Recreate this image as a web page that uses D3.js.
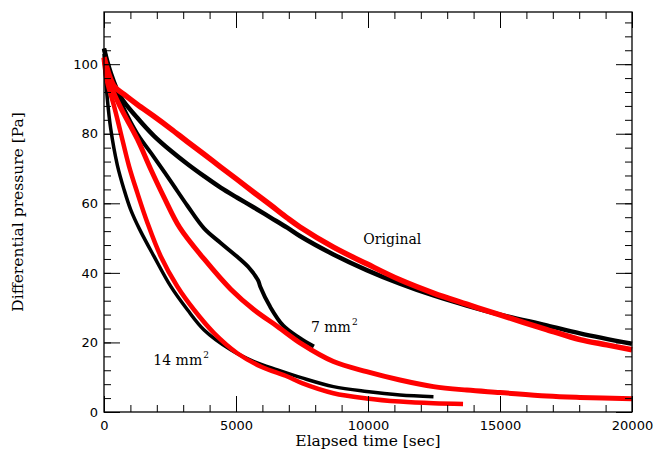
<!DOCTYPE html>
<html>
<head>
<meta charset="utf-8">
<script src="https://cdn.jsdelivr.net/npm/d3@7"></script>
<style>
  html, body { margin: 0; padding: 0; background: #fff; }
  svg { display: block; }
</style>
</head>
<body>
<div id="chart"></div>
<script>
// elapsed time [sec] and differential pressure [Pa]
const origBlackT = [0, 250, 630, 1260, 1890, 2530, 3160, 3790, 4420, 5050, 5680, 6310, 6940, 7420, 8690, 9950, 11210, 12480, 13740, 15000, 16770, 18030, 20000]
const origBlackP = [104.5, 97.6, 90.6, 84.6, 79.4, 75.1, 71.3, 67.8, 64.5, 61.6, 58.8, 55.9, 53.0, 50.6, 45.3, 40.8, 36.9, 33.5, 30.6, 28.0, 24.9, 22.6, 19.6]

const origRedT = [0, 380, 760, 1260, 1890, 2530, 3160, 3790, 4420, 5050, 5680, 6310, 6940, 7420, 8690, 9950, 11210, 12480, 13740, 15000, 16770, 18030, 19040, 20000]
const origRedP = [102, 93.7, 91.3, 88.4, 85.0, 81.4, 77.7, 74.1, 70.4, 66.8, 63.1, 59.5, 55.8, 53.2, 47.4, 42.6, 38.0, 34.2, 31.0, 27.9, 23.7, 20.8, 19.3, 17.9]

const mm7BlackT = [0, 300, 700, 1260, 1890, 2530, 3160, 3790, 4420, 5050, 5500, 5840, 5920, 6290, 6790, 7420, 7950]
const mm7BlackP = [104.5, 95, 88, 80, 73.3, 66.3, 59.3, 52.8, 48.6, 44.6, 41.4, 37.8, 36.0, 30.3, 24.8, 21.2, 18.8]

const mm7RedT = [0, 250, 630, 1260, 1770, 2270, 2870, 3790, 4800, 5680, 6570, 7500, 8690, 9950, 11210, 12480, 13740, 15000, 16770, 18030, 20000]
const mm7RedP = [101.5, 94, 87.5, 78.5, 69.8, 61.8, 53.0, 44.0, 35.3, 29.4, 24.6, 19.5, 14.5, 11.6, 9.2, 7.3, 6.3, 5.6, 4.6, 4.2, 3.8]

const mm14BlackT = [0, 126, 253, 505, 758, 1010, 1350, 1890, 2530, 3160, 3790, 4800, 5680, 6570, 7500, 8690, 9950, 11210, 12480]
const mm14BlackP = [103, 90, 81.5, 71.0, 64, 58.2, 52.5, 44.8, 36.1, 29.4, 23.6, 17.9, 14.5, 12.1, 9.8, 7.3, 5.9, 4.9, 4.4]

const mm14RedT = [0, 126, 379, 632, 947, 1263, 1640, 2147, 2778, 3409, 4167, 5050, 5935, 6944, 7500, 8690, 9950, 11210, 12480, 13600]
const mm14RedP = [101, 94.7, 88, 80.3, 70.7, 63, 54.5, 44.8, 36.1, 29.4, 22.7, 16.9, 13.1, 10.2, 8.3, 5.4, 3.9, 3.0, 2.5, 2.3]

const xTicks = [0, 5000, 10000, 15000, 20000]
const yTicks = [0, 20, 40, 60, 80, 100]

const curveLabels = ['Original', '7 mm', '14 mm']
const curveLabelT = [10920, 7840, 1870]
const curveLabelP = [48.3, 23.1, 13.5]
const curveLabelSup = ['', '2', '2']

const series = [
  { t: origBlackT, p: origBlackP, color: '#000', width: 4.5 },
  { t: mm7BlackT, p: mm7BlackP, color: '#000', width: 4 },
  { t: mm14BlackT, p: mm14BlackP, color: '#000', width: 3.5 },
  { t: origRedT, p: origRedP, color: '#ff0000', width: 5.5 },
  { t: mm7RedT, p: mm7RedP, color: '#ff0000', width: 5 },
  { t: mm14RedT, p: mm14RedP, color: '#ff0000', width: 4.5 }
]

const width = 655
const height = 457
const margin = { top: 12, right: 23, bottom: 45, left: 104 }

const svg = d3.select('#chart')
  .append('svg')
  .attr('width', width)
  .attr('height', height)

const x = d3.scaleLinear()
  .domain([0, 20000])
  .range([margin.left, width - margin.right])

const y = d3.scaleLinear()
  .domain([0, 115])
  .range([height - margin.bottom, margin.top])

const minorX = d3.range(0, 20001, 1000)
const minorY = d3.range(0, 115, 4)

const tickFont = g => g
  .attr('font-family', 'DejaVu Sans, sans-serif')
  .attr('font-size', 13)

// curves
const line = d3.line()
  .x(d => x(d[0]))
  .y(d => y(d[1]))
  .curve(d3.curveCatmullRom.alpha(0.5))

svg.append('g')
  .attr('class', 'curves')
  .selectAll('path')
  .data(series)
  .join('path')
  .attr('d', s => line(s.t.map((t, i) => [t, s.p[i]])))
  .attr('fill', 'none')
  .attr('stroke', s => s.color)
  .attr('stroke-width', s => s.width)
  .attr('stroke-linejoin', 'round')

// axes: ticks point inward on all four sides
const bottom = height - margin.bottom
const right = width - margin.right

svg.append('g')
  .attr('transform', `translate(0,${bottom})`)
  .call(d3.axisBottom(x).tickValues(minorX).tickSize(-7).tickFormat(''))
svg.append('g')
  .attr('transform', `translate(0,${bottom})`)
  .call(d3.axisBottom(x).tickValues(xTicks).tickSize(-16).tickPadding(9).tickFormat(d3.format('d')))
  .call(tickFont)
svg.append('g')
  .attr('transform', `translate(0,${margin.top})`)
  .call(d3.axisTop(x).tickValues(minorX).tickSize(-7).tickFormat(''))
svg.append('g')
  .attr('transform', `translate(0,${margin.top})`)
  .call(d3.axisTop(x).tickValues(xTicks).tickSize(-16).tickFormat(''))

svg.append('g')
  .attr('transform', `translate(${margin.left},0)`)
  .call(d3.axisLeft(y).tickValues(minorY).tickSize(-7).tickFormat(''))
svg.append('g')
  .attr('transform', `translate(${margin.left},0)`)
  .call(d3.axisLeft(y).tickValues(yTicks).tickSize(-16).tickPadding(6).tickFormat(d3.format('d')))
  .call(tickFont)
svg.append('g')
  .attr('transform', `translate(${right},0)`)
  .call(d3.axisRight(y).tickValues(minorY).tickSize(-7).tickFormat(''))
svg.append('g')
  .attr('transform', `translate(${right},0)`)
  .call(d3.axisRight(y).tickValues(yTicks).tickSize(-16).tickFormat(''))

svg.selectAll('.domain').remove()
svg.selectAll('.tick line').attr('stroke', '#000').attr('stroke-width', 1)
svg.selectAll('.tick text').attr('fill', '#000')

svg.append('rect')
  .attr('x', margin.left)
  .attr('y', margin.top)
  .attr('width', right - margin.left)
  .attr('height', bottom - margin.top)
  .attr('fill', 'none')
  .attr('stroke', '#000')
  .attr('stroke-width', 1.3)

// axis titles
svg.append('text')
  .attr('x', (margin.left + right) / 2)
  .attr('y', 446)
  .attr('text-anchor', 'middle')
  .attr('font-family', 'DejaVu Serif, serif')
  .attr('font-size', 15.5)
  .text('Elapsed time [sec]')

svg.append('text')
  .attr('transform', `translate(23,${(margin.top + bottom) / 2}) rotate(-90)`)
  .attr('text-anchor', 'middle')
  .attr('font-family', 'DejaVu Serif, serif')
  .attr('font-size', 15.5)
  .text('Differential pressure [Pa]')

// curve annotations
const labels = svg.append('g')
  .attr('font-family', 'DejaVu Serif, serif')
  .attr('font-size', 14)
  .selectAll('text')
  .data(curveLabels)
  .join('text')
  .attr('x', (d, i) => x(curveLabelT[i]))
  .attr('y', (d, i) => y(curveLabelP[i]))
  .attr('text-anchor', (d, i) => i === 0 ? 'middle' : 'start')

labels.append('tspan').text(d => d)
labels.append('tspan')
  .attr('dy', -7)
  .attr('dx', 1)
  .attr('font-size', 9)
  .text((d, i) => curveLabelSup[i])
</script>
</body>
</html>
